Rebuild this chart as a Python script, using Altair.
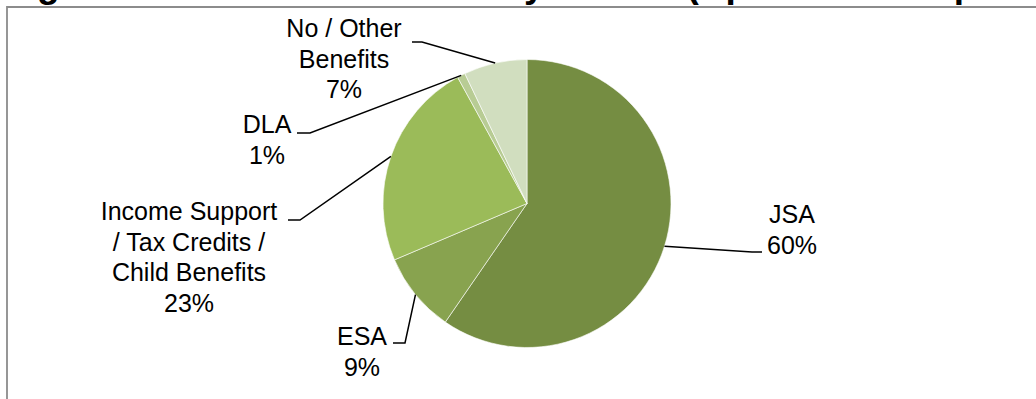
import math
import altair as alt
import pandas as pd

# ---- data ----
categories = ["JSA", "ESA", "Income Support / Tax Credits / Child Benefits", "DLA", "No / Other Benefits"]
shares = [59.6, 9.0, 23.4, 0.9, 7.1]
display_names = ["JSA", "ESA", "Income Support\n/ Tax Credits /\nChild Benefits", "DLA", "No / Other\nBenefits"]
colors = ["#758D42", "#88A34F", "#9BBB59", "#B8CC94", "#D1DEBF"]
title_text = "Figure 4: Job start situation by benefit (April 2013 - September 2013)"

# ---- layout (pixels) ----
W, H = 1036, 399
CX, CY, R = 527, 203.5, 144
label_anchor = {  # first-line baseline, centre x
    "JSA": (792, 223),
    "ESA": (362, 345),
    "Income Support / Tax Credits / Child Benefits": (189, 220),
    "DLA": (267, 133),
    "No / Other Benefits": (344, 37),
}
leader_bends = {  # elbow point, then end point next to label
    "JSA": [(752, 252), (762, 252)],
    "ESA": [(405, 343), (393, 343)],
    "Income Support / Tax Credits / Child Benefits": [(300, 220), (288, 220)],
    "DLA": [(310, 133), (297, 133)],
    "No / Other Benefits": [(422, 42), (412, 42)],
}

total = sum(shares)
pie_df = pd.DataFrame({"cat": categories, "share": shares, "idx": list(range(len(categories)))})

label_rows, line_rows = [], []
start = 0.0
for cat, share, name in zip(categories, shares, display_names):
    mid = (start + share / 2) / total * 2 * math.pi
    start += share
    px, py = CX + R * math.sin(mid), CY - R * math.cos(mid)
    pts = [(px, py)] + leader_bends[cat]
    for k, (x, y) in enumerate(pts):
        line_rows.append({"cat": cat, "seq": k, "x": x, "y": y})
    lx, ly = label_anchor[cat]
    label_rows.append({"cat": cat, "x": lx, "y": ly, "text": f"{name}\n{round(share)}%"})

label_df = pd.DataFrame(label_rows)
line_df = pd.DataFrame(line_rows)

xs = alt.Scale(domain=[0, W], nice=False, zero=False)
ys = alt.Scale(domain=[0, H], nice=False, zero=False, reverse=True)

frame = alt.Chart(pd.DataFrame({"a": [0]})).mark_rect(
    filled=False, stroke="#8c8c8c", strokeWidth=1.8
).encode(x=alt.value(7), y=alt.value(7), x2=alt.value(W + 20), y2=alt.value(H + 20))

title = alt.Chart(pd.DataFrame({"t": [title_text]})).mark_text(
    align="left", baseline="alphabetic", font="Liberation Sans", fontWeight="bold",
    fontSize=37, color="black"
).encode(x=alt.value(4), y=alt.value(-3), text="t:N")

pie = alt.Chart(pie_df).mark_arc(outerRadius=R, stroke="white", strokeWidth=0.6).encode(
    theta=alt.Theta("share:Q", stack=True),
    color=alt.Color("cat:N", scale=alt.Scale(domain=categories, range=colors), legend=None),
    order=alt.Order("idx:Q"),
    x=alt.value(CX),
    y=alt.value(CY),
)

leaders = alt.Chart(line_df).mark_line(color="black", strokeWidth=1.5).encode(
    x=alt.X("x:Q", scale=xs, axis=None),
    y=alt.Y("y:Q", scale=ys, axis=None),
    detail="cat:N",
    order="seq:Q",
)

labels = alt.Chart(label_df).mark_text(
    align="center", baseline="alphabetic", font="Liberation Sans", fontSize=25,
    lineBreak="\n", lineHeight=30.5, color="black"
).encode(
    x=alt.X("x:Q", scale=xs, axis=None),
    y=alt.Y("y:Q", scale=ys, axis=None),
    text="text:N",
)

chart = alt.layer(frame, title, pie, leaders, labels).properties(
    width=W, height=H, autosize=alt.AutoSizeParams(type="none"), padding=0,
    background="white",
).configure_view(stroke=None)

chart.save("out.html", embed_options={"renderer": "svg", "actions": False})
